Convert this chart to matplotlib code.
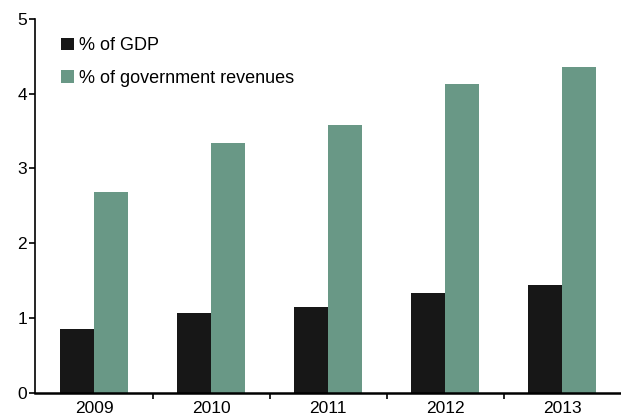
import numpy as np
import matplotlib
matplotlib.use("Agg")
import matplotlib.pyplot as plt
from matplotlib.ticker import FixedLocator

plt.rcParams['font.family'] = ['Liberation Sans', 'DejaVu Sans']

# data
years = ["2009", "2010", "2011", "2012", "2013"]
pct_gdp = [0.85, 1.07, 1.15, 1.33, 1.44]
pct_revenues = [2.68, 3.34, 3.58, 4.13, 4.35]

black = "#171717"
green = "#699886"

fig = plt.figure(figsize=(6.21, 4.18), dpi=100)
ax = fig.add_axes([0.057, 0.06, 0.943, 0.895])

x = np.arange(len(years))
w = 0.29
ax.bar(x - w / 2, pct_gdp, width=w, color=black, label="% of GDP")
ax.bar(x + w / 2, pct_revenues, width=w, color=green, label="% of government revenues")

ax.set_xlim(-0.5, len(years) - 0.5)
ax.set_ylim(0, 5)
ax.set_yticks([0, 1, 2, 3, 4, 5])
ax.set_xticks(x)
ax.set_xticklabels(years)
ax.tick_params(axis="x", which="major", length=0, pad=6, labelsize=12.5)
ax.xaxis.set_minor_locator(FixedLocator(x[:-1] + 0.5))
ax.tick_params(axis="x", which="minor", length=4, width=1.2, direction="out")
ax.tick_params(axis="y", length=4, width=1.2, direction="out", labelsize=12.5, pad=2)

for s in ["top", "right"]:
    ax.spines[s].set_visible(False)
ax.spines["left"].set_linewidth(1.2)
ax.spines["bottom"].set_linewidth(1.8)

ax.legend(loc="upper left", bbox_to_anchor=(0.032, 0.97), frameon=False,
          fontsize=13, handlelength=0.7, handleheight=0.7, handletextpad=0.3,
          labelspacing=0.85, borderaxespad=0)

fig.savefig("out.png", dpi=100)
